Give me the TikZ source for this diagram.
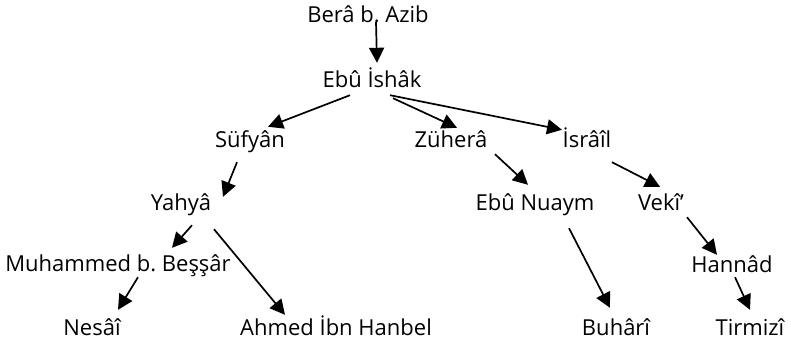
\documentclass[tikz,border=0pt]{standalone}
\usepackage{fontspec}
\setmainfont{Open Sans}
\usetikzlibrary{arrows.meta}

\begin{document}
\begin{tikzpicture}[x=1pt,y=-1pt,
    person/.style={font=\fontsize{22}{26}\selectfont, anchor=base, inner sep=1pt, text height=14pt, text depth=4pt},
    arr/.style={-{Triangle[length=15pt,width=15pt]}, line width=1.7pt}]
    \useasboundingbox (0,0) rectangle (791,345);

    \node[person] (bera) at (368,23) {Berâ b.\ Azib};
    \node[person] (ebu) at (372,87) {Ebû İshâk};
    \node[person] (sufyan) at (250,147) {Süfyân};
    \node[person] (zuhera) at (451,147) {Züherâ};
    \node[person] (israil) at (587,147) {İsrâîl};
    \node[person] (yahya) at (181,210) {Yahyâ};
    \node[person] (nuaym) at (535,210) {Ebû Nuaym};
    \node[person] (veki) at (661,210) {Vekî’};
    \node[person] (muhammed) at (118,271) {Muhammed b.\ Beşşâr};
    \node[person] (hannad) at (732,272) {Hannâd};
    \node[person] (nesai) at (92,335) {Nesâî};
    \node[person] (ahmed) at (336,335) {Ahmed İbn Hanbel};
    \node[person] (buhari) at (616,335) {Buhârî};
    \node[person] (tirmizi) at (750,335) {Tirmizî};

    \draw[arr] ([xshift=8pt,yshift=6pt]bera.south) -- ([xshift=5pt,yshift=9pt]ebu.north);
    \draw[arr] ([xshift=-22pt,yshift=-3pt]ebu.south) -- ([xshift=18pt,yshift=5pt]sufyan.north);
    \draw[arr] ([xshift=21pt,yshift=-6pt]ebu.south) -- ([xshift=6pt,yshift=4pt]zuhera.north);
    \draw[arr] ([xshift=18pt,yshift=-3pt]ebu.south) -- ([xshift=-25pt,yshift=2pt]israil.north);
    \draw[arr] ([xshift=-13pt,yshift=-10pt]sufyan.south) -- ([xshift=42pt,yshift=-2pt]yahya.north);
    \draw[arr] ([xshift=44pt,yshift=-2pt]zuhera.south) -- ([xshift=-7pt,yshift=10pt]nuaym.north);
    \draw[arr] ([xshift=25pt,yshift=-10pt]israil.south) -- ([xshift=-1pt,yshift=8pt]veki.north);
    \draw[arr] ([xshift=11pt,yshift=-10pt]yahya.south) -- ([xshift=54pt,yshift=8pt]muhammed.north);
    \draw[arr] ([xshift=33pt,yshift=-14pt]yahya.south) -- ([xshift=-51pt,yshift=5pt]ahmed.north);
    \draw[arr] ([xshift=20pt,yshift=-1pt]muhammed.south) -- ([xshift=26pt,yshift=10pt]nesai.north);
    \draw[arr] ([xshift=34pt,yshift=-13pt]nuaym.south) -- ([xshift=-6pt,yshift=12pt]buhari.north);
    \draw[arr] ([xshift=26pt,yshift=-2pt]veki.south) -- ([xshift=-15pt,yshift=2pt]hannad.north);
    \draw[arr] ([xshift=3pt]hannad.south) -- ([yshift=10pt]tirmizi.north);

\end{tikzpicture}
\end{document}
